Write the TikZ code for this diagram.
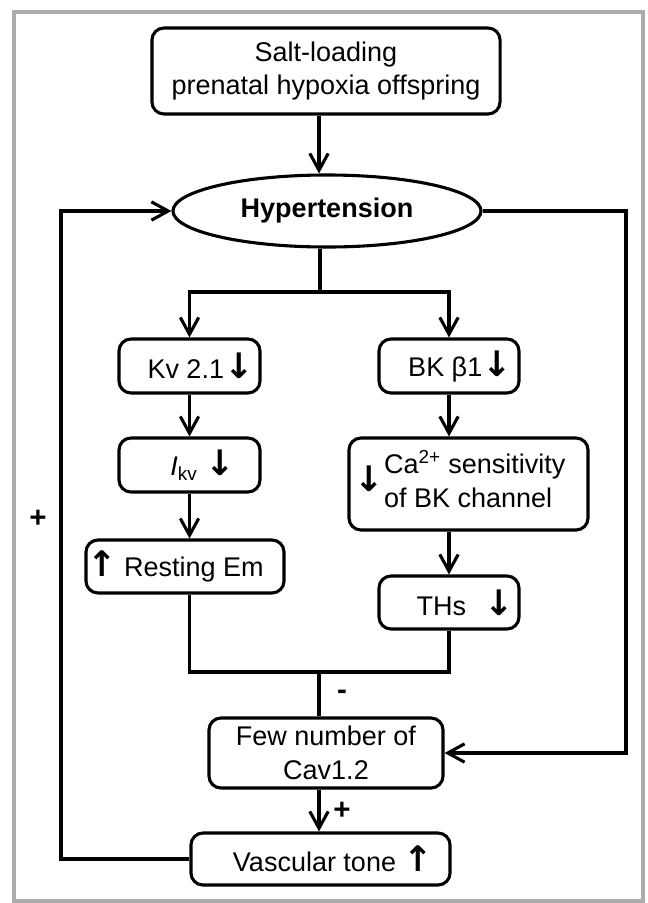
\documentclass[tikz,border=0pt]{standalone}
\usepackage{fontspec}
\setmainfont{Liberation Sans}
\newfontfamily\arrowfont{DejaVu Sans}
\usetikzlibrary{arrows.meta}
\usetikzlibrary{shapes.geometric}
\definecolor{framegray}{RGB}{172,172,175}
\newcommand{\dn}{{\arrowfont\bfseries\fontsize{25}{24}\selectfont ↓}}
\newcommand{\upar}{{\arrowfont\bfseries\fontsize{25}{24}\selectfont ↑}}

\begin{document}
\begin{tikzpicture}[x=0.025cm,y=-0.025cm,line width=2.2pt,
    >={Straight Barb[length=0.42cm,width=0.46cm]},
    flow node/.style={draw,rounded corners=0.3cm,align=center,inner sep=0pt,
      font=\fontsize{19.2}{24}\selectfont},
    hyp node/.style={ellipse,draw,inner sep=0pt,
      font=\fontsize{19.2}{24}\selectfont\bfseries},
    sign node/.style={inner sep=1pt,font=\fontsize{21}{24}\selectfont\bfseries}]
      \useasboundingbox (0,0) rectangle (647,903);
      \draw[framegray, line width=0.1cm] (14,12) rectangle (643,901);

      \node[flow node, minimum width=8.7cm, minimum height=2.15cm] (salt) at (326,71) {Salt-loading\\prenatal hypoxia offspring};
      \node[hyp node, minimum width=7.7cm, minimum height=1.8cm] (hyp) at (327,211) {Hypertension};

      \node[flow node, minimum width=3.525cm, minimum height=1.35cm] (kv) at (189.5,366) {\hspace*{0.55cm}Kv 2.1\dn};
      \node[flow node, minimum width=3.5cm, minimum height=1.35cm] (bk) at (449,366) {\hspace*{0.55cm}BK β1\dn};
      \node[flow node, minimum width=3.525cm, minimum height=1.35cm] (ikv) at (189.5,465) {\hspace*{0.65cm}\textit{I}\textsubscript{kv} \dn};
      \node[flow node, minimum width=5.975cm, minimum height=2.3cm] (ca) at (468.5,484) {\dn\begin{tabular}{@{}l@{}}Ca\textsuperscript{2+} sensitivity\\of BK channel\end{tabular}\hspace*{0.425cm}};
      \node[flow node, minimum width=4.95cm, minimum height=1.325cm] (rest) at (185,566.5) {\upar\ Resting Em\hspace*{0.475cm}};
      \node[flow node, minimum width=3.5cm, minimum height=1.325cm] (ths) at (449,602.5) {\hspace*{0.8cm}THs\hspace{0.45cm}\dn};
      \node[flow node, minimum width=5.85cm, minimum height=1.75cm] (few) at (326,753) {Few number of\\Cav1.2};
      \node[flow node, minimum width=6.475cm, minimum height=1.3cm] (vasc) at (320.5,859) {\hspace*{0.625cm}Vascular tone \upar};

      \node[sign node] (plusL) at (38,519) {+};
      \node[sign node] (minus) at (342,695) {-};
      \node[sign node] (plusB) at (342,811) {+};

      % columns and turning points of the lines
      \coordinate (spine) at (319,0);
      \coordinate (loopL) at (61,0);
      \coordinate (loopR) at (626,0);
      \coordinate (split) at (320,292);
      \coordinate (join) at (319,672);

      \draw[->] (salt.south -| spine) -- (hyp.north -| spine);
      \draw (hyp.south -| split) -- (split);
      \draw[->] (split) -| (kv.north);
      \draw[->] (split) -| (bk.north);

      \draw[->] (kv) -- (ikv);
      \draw[->] (ikv) -- (rest.north -| ikv);
      \draw[->] (bk) -- (ca.north -| bk);
      \draw[->] (ca.south -| bk) -- (ths);

      \draw (rest.south -| ikv) |- (join) -| (ths.south);
      \draw (join) -- (few.north -| join);
      \draw[->] (few.south -| spine) -- (vasc.north -| spine);

      % feedback loops
      \draw[->] (vasc.west) -- (vasc.west -| loopL) -- (hyp.west -| loopL) -- (hyp.west);
      \draw[->] (hyp.east) -- (hyp.east -| loopR) -- (few.east -| loopR) -- (few.east);
    \end{tikzpicture}
\end{document}
